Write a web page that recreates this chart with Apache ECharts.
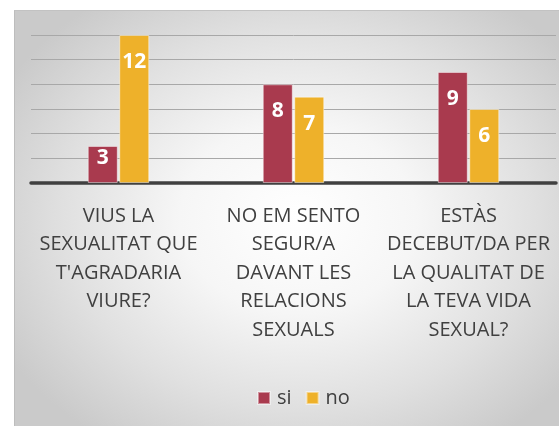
<!DOCTYPE html>
<html>
<head>
<meta charset="utf-8">
<script src="https://cdn.jsdelivr.net/npm/echarts@6/dist/echarts.min.js"></script>
<style>
  html, body { margin: 0; padding: 0; background: #fff; }
  #bg {
    position: absolute; left: 14px; top: 10px; width: 545px; height: 416px;
    box-sizing: border-box; border-left: 1px solid #bdbdbd; border-top: 1px solid #c2c2c2;
    background: radial-gradient(ellipse 62% 65% at 52% 50%, #ffffff 0%, #f6f6f6 35%, #e0e0e0 70%, #cacaca 100%);
  }
  #chart { position: absolute; left: 0; top: 0; width: 559px; height: 426px; }
</style>
</head>
<body>
<div id="bg"></div>
<div id="chart"></div>
<script>
const categories = [
  "VIUS LA\nSEXUALITAT QUE\nT'AGRADARIA\nVIURE?",
  "NO EM SENTO\nSEGUR/A\nDAVANT LES\nRELACIONS\nSEXUALS",
  "ESTÀS\nDECEBUT/DA PER\nLA QUALITAT DE\nLA TEVA VIDA\nSEXUAL?"
]
const siValues = [3, 8, 9]
const noValues = [12, 7, 6]

const FONT = "'Open Sans', sans-serif"
const TEXT = '#404040'

// short bars get their label pulled up toward the top edge
const toItems = (vals) => vals.map((v) => ({
  value: v,
  label: { distance: v < 4 ? 2 : 17 },
}))

const barSeries = (name, vals, color) => ({
  name,
  type: 'bar',
  data: toItems(vals),
  barWidth: 30,
  barGap: '5%',
  itemStyle: { color, borderColor: 'rgba(255,255,255,0.45)', borderWidth: 1 },
  label: {
    show: true,
    position: 'insideTop',
    color: '#fff',
    fontFamily: FONT,
    fontWeight: 'bold',
    fontSize: 21,
    lineHeight: 20,
  },
})

const chart = echarts.init(document.getElementById('chart'))
chart.setOption({
  animation: false,
  backgroundColor: 'transparent',
  grid: { left: 31, right: 3, top: 35, bottom: 243 },
  legend: {
    left: 252,
    top: 382,
    itemWidth: 12,
    itemHeight: 12,
    itemGap: 14,
    icon: 'rect',
    textStyle: { fontFamily: FONT, fontSize: 20, lineHeight: 22, color: TEXT, padding: [0, 0, 0, 2] },
    data: ['si', 'no'],
  },
  xAxis: {
    type: 'category',
    data: categories,
    axisTick: { show: false },
    axisLine: { lineStyle: { color: '#404040', width: 3.5 } },
    axisLabel: {
      interval: 0,
      margin: 19,
      fontFamily: FONT,
      fontSize: 20,
      lineHeight: 28.5,
      color: TEXT,
    },
  },
  yAxis: {
    type: 'value',
    min: 0,
    max: 12,
    interval: 2,
    axisLabel: { show: false },
    axisLine: { show: false },
    axisTick: { show: false },
    splitLine: { lineStyle: { color: '#a8a8a8', width: 1 } },
  },
  series: [
    barSeries('si', siValues, '#A93A4E'),
    barSeries('no', noValues, '#EEB12A'),
  ],
})
</script>
</body>
</html>
